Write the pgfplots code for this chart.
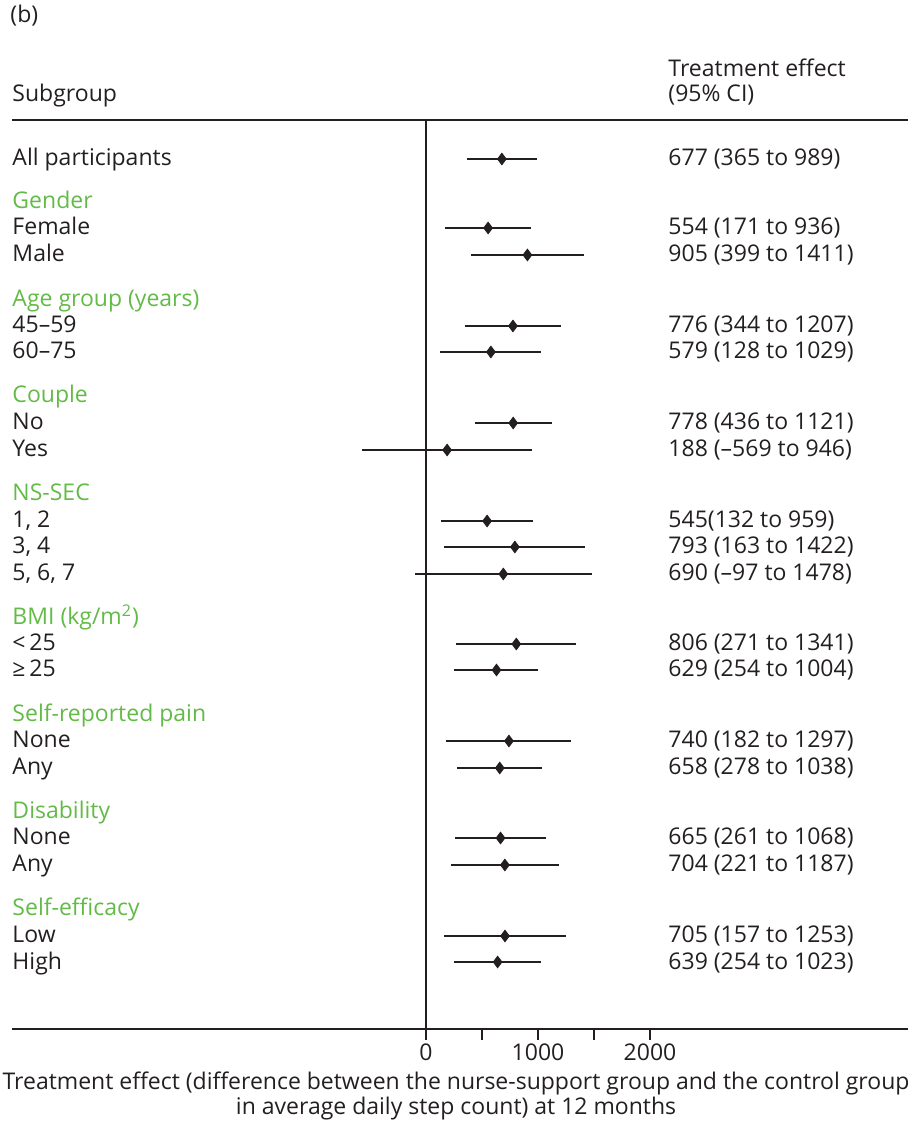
\documentclass[border=0pt]{standalone}
\usepackage{fontspec}
\setmainfont{Open Sans}
\usepackage{pgfplots}
\usepackage{pgfplotstable}
\pgfplotsset{compat=1.18}
\definecolor{txt}{RGB}{35,31,32}
\definecolor{grp}{RGB}{98,187,70}

\pgfplotstableread{
est y ep em
677 -159 312 312
554 -228 382 383
905 -255 506 506
776 -326 431 432
579 -352 450 451
778 -423 343 342
188 -450 758 757
545 -521 414 413
793 -547 629 630
690 -574 788 787
806 -644 535 535
629 -670 375 375
740 -741 557 558
658 -768 380 380
665 -838 403 404
704 -865 483 483
705 -936 548 548
639 -962 384 385
}\forestdata

% left label at pixel baseline #1
\newcommand{\Lt}[2]{\node[anchor=base west, inner sep=0pt, text=txt] at (axis cs:-3696,-#1) {#2};}
\newcommand{\Lg}[2]{\node[anchor=base west, inner sep=0pt, text=grp] at (axis cs:-3696,-#1) {#2};}
\newcommand{\Rt}[2]{\node[anchor=base west, inner sep=0pt, text=txt] at (axis cs:2161,-#1) {#2};}

\begin{document}
\begin{tikzpicture}[font=\fontsize{11.5}{12.5}\selectfont]
\begin{axis}[
  scale only axis, width=448pt, height=454.5pt,
  xmin=-3696, xmax=4304, ymin=-1029, ymax=-120,
  axis x line*=bottom, hide y axis,
  x axis line style={-, line width=1pt, draw=txt},
  xtick={0,500,1000,1500,2000}, xticklabels={0,,1000,,2000},
  tick align=outside, major tick length=5.5pt,
  x tick style={line width=1pt, draw=txt},
  xticklabel style={text=txt, font=\fontsize{11.5}{12.5}\selectfont, yshift=1.5pt},
  /pgf/number format/assume math mode=true,
  clip=false,
  xlabel={Treatment effect (difference between the nurse-support group and the control group\\in average daily step count) at 12 months},
  xlabel style={at={(axis description cs:0.4955,0)}, anchor=north, yshift=-21.5pt, align=center, inner sep=0pt, text=txt, font=\fontsize{11.5}{12.5}\selectfont},
]
% bounding box of the whole figure (912 x 1126 px)
\path (axis cs:-3804,0) rectangle (axis cs:4339,-1126);
% rules
\draw[line width=1pt, draw=txt] (axis cs:-3696,-120) -- (axis cs:4304,-120);
\draw[line width=1pt, draw=txt] (axis cs:0,-1029) -- (axis cs:0,-120);

\addplot[only marks, mark=diamond*, mark size=2.9pt, color=txt,
  error bars/.cd, x dir=both, x explicit, error mark=none,
  error bar style={line width=1pt, draw=txt}]
  table[x=est, y=y, x error plus=ep, x error minus=em] {\forestdata};

% headers
\node[anchor=base west, inner sep=0pt, text=txt] at (axis cs:-3714,-23) {(b)};
\Lt{102}{Subgroup}
\node[anchor=base west, inner sep=0pt, text=txt, align=left] at (axis cs:2161,-77) {Treatment effect};
\Rt{102}{(95\% CI)}

% left labels
\Lt{166}{All participants}
\Lg{209}{Gender}
\Lt{235}{Female}
\Lt{262}{Male}
\Lg{307}{Age group (years)}
\Lt{333}{45–59}
\Lt{359}{60–75}
\Lg{403}{Couple}
\Lt{430}{No}
\Lt{457}{Yes}
\Lg{501}{NS-SEC}
\Lt{528}{1, 2}
\Lt{554}{3, 4}
\Lt{581}{5, 6, 7}
\Lg{625}{BMI (kg/m\textsuperscript{2})}
\Lt{651}{<\,25}
\Lt{677}{≥\,25}
\Lg{722}{Self-reported pain}
\Lt{748}{None}
\Lt{775}{Any}
\Lg{819}{Disability}
\Lt{845}{None}
\Lt{872}{Any}
\Lg{916}{Self-efficacy}
\Lt{943}{Low}
\Lt{969}{High}

% right labels
\Rt{166}{677 (365 to 989)}
\Rt{235}{554 (171 to 936)}
\Rt{262}{905 (399 to 1411)}
\Rt{333}{776 (344 to 1207)}
\Rt{359}{579 (128 to 1029)}
\Rt{430}{778 (436 to 1121)}
\Rt{457}{188 (–569 to 946)}
\Rt{528}{545(132 to 959)}
\Rt{554}{793 (163 to 1422)}
\Rt{581}{690 (–97 to 1478)}
\Rt{651}{806 (271 to 1341)}
\Rt{677}{629 (254 to 1004)}
\Rt{748}{740 (182 to 1297)}
\Rt{775}{658 (278 to 1038)}
\Rt{845}{665 (261 to 1068)}
\Rt{872}{704 (221 to 1187)}
\Rt{943}{705 (157 to 1253)}
\Rt{969}{639 (254 to 1023)}
\end{axis}
\end{tikzpicture}
\end{document}
